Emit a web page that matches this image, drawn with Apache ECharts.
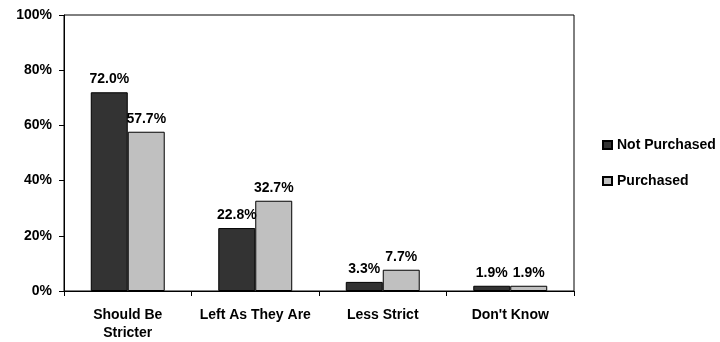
<!DOCTYPE html>
<html>
<head>
<meta charset="utf-8">
<script src="https://cdn.jsdelivr.net/npm/echarts@6/dist/echarts.min.js"></script>
<style>
  html, body { margin: 0; padding: 0; background: #fff; }
  #chart { width: 720px; height: 342px; }
</style>
</head>
<body>
<div id="chart"></div>
<script>
// Survey responses: share of respondents by opinion, split by purchase status
const categories = ['Should Be\nStricter', 'Left As They Are', 'Less Strict', "Don't Know"];
const notPurchased = [72.0, 22.8, 3.3, 1.9];
const purchased = [57.7, 32.7, 7.7, 1.9];
const seriesNames = ['Not Purchased', 'Purchased'];

const font = 'Arial, "Liberation Sans", sans-serif';
const chart = echarts.init(document.getElementById('chart'), null, { renderer: 'canvas' });

const labelStyle = {
  show: true,
  position: 'top',
  distance: 6,
  fontFamily: font,
  fontWeight: 'bold',
  fontSize: 14,
  color: '#000',
  formatter: p => p.value.toFixed(1) + '%'
};

chart.setOption({
  animation: false,
  grid: {
    left: 64, top: 15, right: 146, bottom: 50,
    show: true, borderColor: '#000', borderWidth: 1
  },
  legend: {
    orient: 'vertical',
    left: 597, top: 133,
    itemWidth: 9, itemHeight: 8, itemGap: 22,
    icon: 'rect',
    textStyle: { fontFamily: font, fontWeight: 'bold', fontSize: 14, color: '#000' },
    data: seriesNames
  },
  xAxis: {
    type: 'category',
    data: categories,
    axisLine: { lineStyle: { color: '#000', width: 1 } },
    axisTick: { show: true, alignWithLabel: false, length: 5, lineStyle: { color: '#000' } },
    axisLabel: {
      fontFamily: font, fontWeight: 'bold', fontSize: 14, color: '#000',
      margin: 15, lineHeight: 18, interval: 0
    }
  },
  yAxis: {
    type: 'value',
    min: 0, max: 100, interval: 20,
    axisLine: { show: true, lineStyle: { color: '#000' } },
    axisTick: { show: true, length: 5, lineStyle: { color: '#000' } },
    splitLine: { show: false },
    axisLabel: {
      fontFamily: font, fontWeight: 'bold', fontSize: 14, color: '#000',
      margin: 12, formatter: v => v + '%'
    }
  },
  series: [
    {
      name: seriesNames[0], type: 'bar', data: notPurchased,
      barGap: '0%', barCategoryGap: '42%',
      itemStyle: { color: '#333333', borderColor: '#000', borderWidth: 1 },
      label: labelStyle
    },
    {
      name: seriesNames[1], type: 'bar', data: purchased,
      itemStyle: { color: '#c0c0c0', borderColor: '#000', borderWidth: 1 },
      label: labelStyle
    }
  ]
});
</script>
</body>
</html>
